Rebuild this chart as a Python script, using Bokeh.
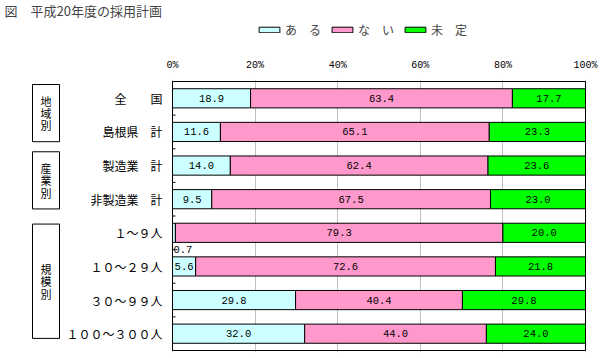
from bokeh.plotting import figure
from bokeh.models import (Range1d, FixedTicker, Legend, LegendItem, ColumnDataSource,
                          PrintfTickFormatter)
from bokeh.layouts import column
from bokeh.core.properties import value
from bokeh.embed import file_html
from bokeh.resources import INLINE

# ---- data ----
categories = ["全　　国", "島根県　計", "製造業　計", "非製造業　計",
              "１～９人", "１０～２９人", "３０～９９人", "１００～３００人"]
aru = [18.9, 11.6, 14.0, 9.5, 0.7, 5.6, 29.8, 32.0]
nai = [63.4, 65.1, 62.4, 67.5, 79.3, 72.6, 40.4, 44.0]
mitei = [17.7, 23.3, 23.6, 23.0, 20.0, 21.8, 29.8, 24.0]
series_names = ["あ　る", "な　い", "未　定"]
groups = ["地域別", "産業別", "規模別"]
group_sizes = [2, 2, 4]
x_ticks = [0, 20, 40, 60, 80, 100]
title_text = "図　平成20年度の採用計画"

COLORS = ["#CCFFFF", "#FF99CC", "#00FF00"]
CJK = "Noto Sans CJK JP"
MONO = "Liberation Mono"

# ---- layout constants (pixels) ----
W = 604
TOP_H = 48                      # header figure (title + legend)
H = 354 - TOP_H                 # main figure
MB_TOP, MB_BOTTOM = 79 - TOP_H, 2
frame_h = H - MB_TOP - MB_BOTTOM
AX0, AX100 = 172, 585          # 0% and 100% from frame left
ROW_TOP, ROW_BOT = 2, 271      # first row top / last row bottom from frame top
ppu_x = (AX100 - AX0) / 100.0
ppu_y = (ROW_BOT - ROW_TOP) / len(categories)
x_start = -AX0 / ppu_x
x_end = 100 + (W - AX100) / ppu_x
y_top = -ROW_TOP / ppu_y
y_bottom = len(categories) + (frame_h - ROW_BOT) / ppu_y

p = figure(width=W, height=H, x_range=Range1d(x_start, x_end),
           y_range=Range1d(y_bottom, y_top),
           output_backend="svg", toolbar_location=None,
           x_axis_location="above", y_axis_location=None,
           min_border_left=0, min_border_right=0,
           min_border_top=MB_TOP, min_border_bottom=MB_BOTTOM)
p.outline_line_color = None
p.background_fill_color = "white"
p.ygrid.visible = False
p.xgrid.ticker = FixedTicker(ticks=x_ticks)
p.xgrid.grid_line_color = "#C0C0C0"
p.xgrid.grid_line_width = 1

ax = p.xaxis[0]
ax.ticker = FixedTicker(ticks=x_ticks)
ax.formatter = PrintfTickFormatter(format="%d%%")
ax.axis_line_color = None
ax.major_tick_line_color = None
ax.major_tick_out = 0
ax.major_tick_in = 0
ax.minor_tick_line_color = None
ax.minor_tick_out = 0
ax.major_label_standoff = 9
ax.major_label_text_font = MONO
ax.major_label_text_font_size = "10px"
ax.major_label_text_color = "black"

n = len(categories)
ys = [i + 0.5 for i in range(n)]
src = ColumnDataSource(dict(y=ys, cat=categories, aru=aru, nai=nai, mitei=mitei))

# plot area border
p.quad(left=[0], right=[100], top=[0], bottom=[n], fill_color=None,
       line_color="black", line_width=1)

rs = p.hbar_stack(["aru", "nai", "mitei"], y="y", height=0.57, color=COLORS,
                  line_color="black", line_width=1, source=src)

# boundary ticks
p.ray(x=[0] * (n - 1), y=list(range(1, n)), length=3, length_units="screen",
      angle=0, line_color="black", line_width=1)

# value labels
lx, ly, lt = [], [], []
sx, sy, st = [], [], []
for i in range(n):
    cum = 0.0
    for v in (aru[i], nai[i], mitei[i]):
        if v < 1.0:
            sx.append(0.0); sy.append(i + 1.0); st.append(f"{v:.1f}")
        else:
            lx.append(cum + v / 2); ly.append(i + 0.5); lt.append(f"{v:.1f}")
        cum += v
p.text(x=lx, y=ly, text=lt, text_align="center", text_baseline="middle",
       text_font=value(MONO), text_font_size="10.5px", text_color="black")
p.text(x=sx, y=sy, text=st, text_align="left", text_baseline="middle",
       x_offset=1, text_font=value(MONO), text_font_size="10.5px", text_color="black")

# category labels
p.text(x=[0] * n, y=ys, text=categories, x_offset=-10, text_align="right",
       text_baseline="middle", text_font=value(CJK), text_font_size="12px",
       text_color="black")

# group boxes
BOX_L, BOX_R = -140, -113   # pixels relative to 0%
CHAR_PITCH = 12.3
bx = (BOX_L + BOX_R) / 2 / ppu_x
bw = (BOX_R - BOX_L) / ppu_x
gy, gh = [], []
cx, cy, ct = [], [], []
start = 0
for g, s in zip(groups, group_sizes):
    c = start + s / 2 - 0.06
    gy.append(c)
    gh.append(0.85 * s)
    for k, ch in enumerate(g):
        cx.append(bx)
        cy.append(c + (k - (len(g) - 1) / 2) * CHAR_PITCH / ppu_y)
        ct.append(ch)
    start += s
p.rect(x=[bx] * len(groups), y=gy, width=bw, height=gh, fill_color=None,
       line_color="black", line_width=1)
p.text(x=cx, y=cy, text=ct, text_align="center", text_baseline="middle",
       text_font=value(CJK), text_font_size="11px", text_color="black")

# ---- header figure: title + legend ----
h = figure(width=W, height=TOP_H, x_range=Range1d(0, 1), y_range=Range1d(0, 1),
           output_backend="svg", toolbar_location=None,
           x_axis_location=None, y_axis_location=None,
           min_border_left=0, min_border_right=0, min_border_top=0, min_border_bottom=0)
h.outline_line_color = None
h.grid.visible = False
h.title.text = title_text
h.title.text_font = CJK
h.title.text_font_size = "13px"
h.title.text_font_style = "normal"
h.title.align = "left"
h.title.vertical_align = "top"
h.title.offset = 4
h.title.standoff = 0

# legend proxies: zero-size, out of view, only carry the series styles
proxies = [h.hbar(y=[-5], left=[0], right=[0], height=0, fill_color=c,
                  line_color="black", line_width=1) for c in COLORS]
legend = Legend(items=[LegendItem(label=nm, renderers=[r]) for nm, r in zip(series_names, proxies)],
                orientation="horizontal", location=(256, TOP_H - 38),
                glyph_width=26, glyph_height=7, label_height=7, label_standoff=3,
                spacing=8, padding=0, margin=0, border_line_color=None,
                background_fill_alpha=0, label_text_font=CJK,
                label_text_font_size="12px")
h.add_layout(legend, "center")

layout = column(h, p, spacing=0)
open("out.html", "w").write(file_html(layout, INLINE))
